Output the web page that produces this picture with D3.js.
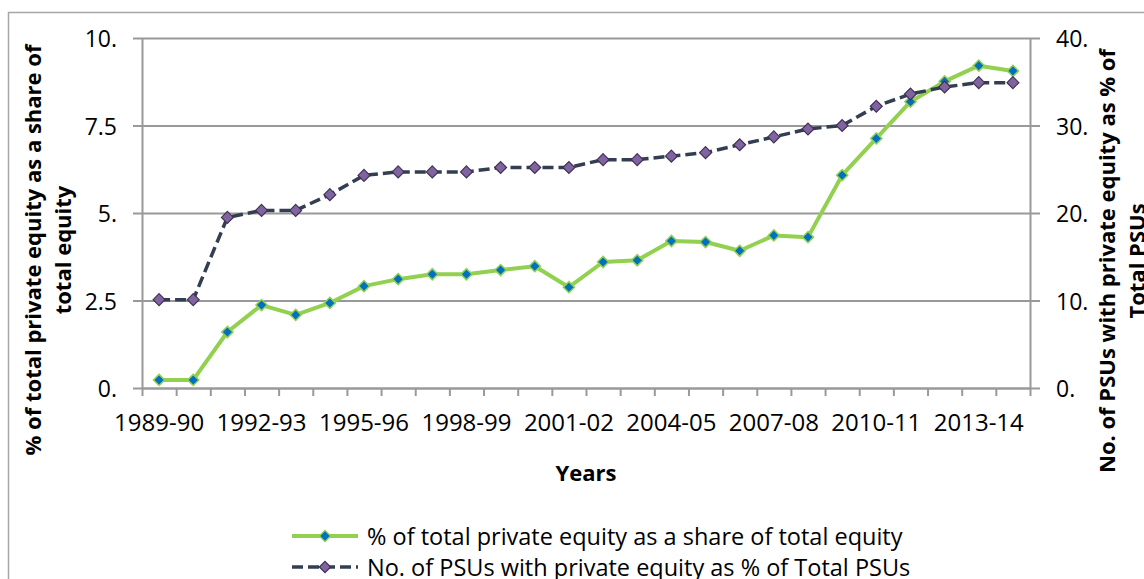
<!DOCTYPE html>
<html>
<head>
<meta charset="utf-8">
<script src="https://cdn.jsdelivr.net/npm/d3@7"></script>
<style>
  body { margin: 0; background: #fff; }
  svg text { font-family: "Open Sans", Lato, sans-serif; fill: #000; }
</style>
</head>
<body>
<svg id="chart"></svg>
<script>
// data
var years = ['1989-90','1990-91','1991-92','1992-93','1993-94','1994-95','1995-96',
  '1996-97','1997-98','1998-99','1999-00','2000-01','2001-02','2002-03','2003-04',
  '2004-05','2005-06','2006-07','2007-08','2008-09','2009-10','2010-11','2011-12',
  '2012-13','2013-14','2014-15'];
var shownYears = ['1989-90','1992-93','1995-96','1998-99','2001-02','2004-05','2007-08','2010-11','2013-14'];

// % of total private equity as a share of total equity (left axis)
var privateEquityShare = [0.23, 0.23, 1.6, 2.37, 2.09, 2.43, 2.91, 3.11, 3.25, 3.25, 3.37, 3.48,
  2.88, 3.6, 3.65, 4.2, 4.17, 3.92, 4.36, 4.31, 6.08, 7.13, 8.18, 8.76, 9.21, 9.06];
// No. of PSUs with private equity as % of total PSUs (right axis)
var psuShare = [10.1, 10.1, 19.5, 20.3, 20.3, 22.1, 24.3, 24.7, 24.7, 24.7, 25.2, 25.2,
  25.2, 26.1, 26.1, 26.5, 26.9, 27.8, 28.7, 29.6, 30.0, 32.2, 33.6, 34.4, 34.9, 34.9];

var seriesNames = ['% of total private equity as a share of total equity',
  'No. of PSUs with private equity as % of Total PSUs'];
var leftTicks = [0, 2.5, 5, 7.5, 10], leftTickLabels = ['0.', '2.5', '5.', '7.5', '10.'];
var rightTicks = [0, 10, 20, 30, 40], rightTickLabels = ['0.', '10.', '20.', '30.', '40.'];

var width = 1144, height = 579;
var plot = {left: 142, right: 1030, top: 38, bottom: 388};
var gridColor = '#999999';

var svg = d3.select('#chart')
  .attr('width', width)
  .attr('height', height);

// outer chart frame (runs off the picture on the right and bottom)
svg.append('path')
  .attr('d', `M8.5,${height + 5}V12.5H${width + 5}`)
  .attr('fill', 'none')
  .attr('stroke', '#a6a6a6')
  .attr('stroke-width', 1.5);

var x = d3.scaleBand().domain(years).range([plot.left, plot.right]);
var xEdges = d3.scaleLinear().domain([0, years.length]).range([plot.left, plot.right]);
var yLeft = d3.scaleLinear().domain([0, 10]).range([plot.bottom, plot.top]);
var yRight = d3.scaleLinear().domain([0, 40]).range([plot.bottom, plot.top]);

// horizontal gridlines
svg.append('g')
  .attr('transform', `translate(${plot.left},0)`)
  .call(d3.axisLeft(yLeft).tickValues(leftTicks).tickFormat('').tickSize(-(plot.right - plot.left)))
  .call(g => g.select('.domain').remove())
  .call(g => g.selectAll('line').attr('stroke', gridColor).attr('stroke-width', 2));

// left axis
svg.append('g')
  .attr('transform', `translate(${plot.left},0)`)
  .call(d3.axisLeft(yLeft).tickValues(leftTicks)
    .tickFormat((d, i) => leftTickLabels[i]).tickSize(9).tickSizeOuter(0).tickPadding(16))
  .call(g => g.select('.domain').attr('stroke', gridColor).attr('stroke-width', 2))
  .call(g => g.selectAll('line').attr('stroke', gridColor).attr('stroke-width', 2))
  .call(g => g.selectAll('text').attr('font-size', 23).attr('dy', '0.38em'));

// right axis
svg.append('g')
  .attr('transform', `translate(${plot.right},0)`)
  .call(d3.axisRight(yRight).tickValues(rightTicks)
    .tickFormat((d, i) => rightTickLabels[i]).tickSize(10).tickSizeOuter(0).tickPadding(16))
  .call(g => g.select('.domain').attr('stroke', gridColor).attr('stroke-width', 2))
  .call(g => g.selectAll('line').attr('stroke', gridColor).attr('stroke-width', 2))
  .call(g => g.selectAll('text').attr('font-size', 23).attr('dy', '0.38em'));

// bottom axis: tick marks between categories
svg.append('g')
  .attr('transform', `translate(0,${plot.bottom})`)
  .call(d3.axisBottom(xEdges).tickValues(d3.range(years.length + 1)).tickFormat('').tickSize(8).tickSizeOuter(0))
  .call(g => g.select('.domain').attr('stroke', gridColor).attr('stroke-width', 2))
  .call(g => g.selectAll('line').attr('stroke', gridColor).attr('stroke-width', 2));

// bottom axis labels, every third year
svg.append('g')
  .attr('transform', `translate(0,${plot.bottom})`)
  .call(d3.axisBottom(x).tickValues(shownYears).tickSize(0).tickPadding(26))
  .call(g => g.select('.domain').remove())
  .call(g => g.selectAll('text').attr('font-size', 24));

var cx = d => x(d) + x.bandwidth() / 2;
var diamond = d3.symbol().type(d3.symbolDiamond2);

// series 1: green line, blue diamonds
svg.append('path')
  .datum(privateEquityShare)
  .attr('fill', 'none')
  .attr('stroke', '#92d050')
  .attr('stroke-width', 4)
  .attr('stroke-linejoin', 'round')
  .attr('d', d3.line().x((d, i) => cx(years[i])).y(d => yLeft(d)));

svg.append('g').selectAll('path')
  .data(privateEquityShare)
  .enter()
  .append('path')
  .attr('d', diamond.size(80))
  .attr('transform', (d, i) => `translate(${cx(years[i])},${yLeft(d)})`)
  .attr('fill', '#0070c0')
  .attr('stroke', '#92d050')
  .attr('stroke-width', 1.5);

// series 2: dark dashed line, purple diamonds
svg.append('path')
  .datum(psuShare)
  .attr('fill', 'none')
  .attr('stroke', '#333f50')
  .attr('stroke-width', 3.5)
  .attr('stroke-dasharray', '11,5')
  .attr('d', d3.line().x((d, i) => cx(years[i])).y(d => yRight(d)));

svg.append('g').selectAll('path')
  .data(psuShare)
  .enter()
  .append('path')
  .attr('d', diamond.size(90))
  .attr('transform', (d, i) => `translate(${cx(years[i])},${yRight(d)})`)
  .attr('fill', '#8064a2')
  .attr('stroke', '#3f3151')
  .attr('stroke-width', 1.2);

// axis titles
svg.append('text')
  .attr('x', (plot.left + plot.right) / 2)
  .attr('y', 481)
  .attr('text-anchor', 'middle')
  .attr('font-size', 22)
  .attr('font-weight', 'bold')
  .text('Years');

var leftTitle = svg.append('text')
  .attr('transform', 'translate(0,250) rotate(-90)')
  .attr('text-anchor', 'middle')
  .attr('font-size', 22)
  .attr('font-weight', 'bold');
leftTitle.append('tspan').attr('x', 0).attr('y', 41).text('% of total private equity as a share of');
leftTitle.append('tspan').attr('x', 0).attr('y', 71).text('total equity');

var rightTitle = svg.append('text')
  .attr('transform', 'translate(0,261) rotate(-90)')
  .attr('text-anchor', 'middle')
  .attr('font-size', 22)
  .attr('font-weight', 'bold');
rightTitle.append('tspan').attr('x', 0).attr('y', 1115).text('No. of PSUs with private equity as % of');
rightTitle.append('tspan').attr('x', 0).attr('y', 1145).text('Total PSUs');

// legend
var legend = svg.append('g').attr('transform', 'translate(292,536)');
var legendStyles = [
  {stroke: '#92d050', dash: null, width: 4, fill: '#0070c0', edge: '#92d050'},
  {stroke: '#333f50', dash: '11,5', width: 3.5, fill: '#8064a2', edge: '#3f3151'}
];
var rows = legend.selectAll('g')
  .data(seriesNames)
  .enter()
  .append('g')
  .attr('transform', (d, i) => `translate(0,${i * 31})`);
rows.append('line')
  .attr('x1', 0).attr('x2', 66)
  .attr('stroke', (d, i) => legendStyles[i].stroke)
  .attr('stroke-width', (d, i) => legendStyles[i].width)
  .attr('stroke-dasharray', (d, i) => legendStyles[i].dash);
rows.append('path')
  .attr('d', diamond.size(80))
  .attr('transform', 'translate(33,0)')
  .attr('fill', (d, i) => legendStyles[i].fill)
  .attr('stroke', (d, i) => legendStyles[i].edge)
  .attr('stroke-width', 1.3);
rows.append('text')
  .attr('x', 75)
  .attr('y', 9)
  .attr('font-size', 23.5)
  .text(d => d);
</script>
</body>
</html>
